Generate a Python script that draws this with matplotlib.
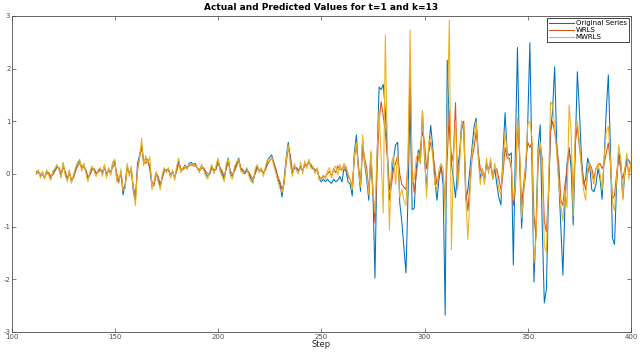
import numpy as np
import matplotlib
matplotlib.use("Agg")
import matplotlib.pyplot as plt

plt.rcParams['axes.unicode_minus'] = False

# ── Data (steps 112..400) ────────────────────────────────────────────────────
original = [
    0.00, 0.05, -0.05, 0.02, -0.08, 0.05, 0.00, -0.10, 0.03, 0.08,
    0.15, 0.10, -0.05, 0.20, 0.00, -0.12, 0.05, -0.15, -0.05, 0.10,
    0.20, 0.25, 0.10, 0.18, 0.05, -0.10, 0.00, 0.12, 0.08, 0.00,
    0.05, 0.10, 0.00, 0.15, -0.05, 0.10, 0.00, 0.20, 0.25, -0.10,
    -0.15, 0.05, -0.40, -0.20, 0.15, 0.00, 0.10, -0.35, -0.50, 0.20,
    0.35, 0.50, 0.20, 0.30, 0.25, 0.10, -0.25, -0.20, 0.00, -0.10,
    -0.25, -0.05, 0.10, 0.05, 0.10, -0.05, 0.05, -0.08, 0.10, 0.25,
    0.05, 0.10, 0.17, 0.10, 0.20, 0.22, 0.18, 0.20, 0.10, 0.05,
    0.15, 0.10, 0.00, -0.05, 0.00, 0.15, 0.05, 0.10, 0.27, 0.10,
    0.00, -0.10, 0.15, 0.30, 0.00, -0.05, 0.10, 0.20, 0.30, 0.10,
    0.05, 0.00, 0.10, 0.00, -0.10, -0.15, 0.05, 0.15, 0.05, 0.10,
    0.00, 0.10, 0.25, 0.32, 0.36, 0.20, 0.07, -0.10, -0.20, -0.44,
    -0.10, 0.30, 0.60, 0.30, 0.00, 0.15, 0.10, 0.05, 0.15, 0.05,
    0.20, 0.15, 0.25, 0.15, 0.10, 0.05, 0.10, -0.10, -0.15, -0.10,
    -0.15, -0.10, -0.15, -0.18, -0.10, -0.15, -0.12, -0.05, -0.15, 0.10,
    0.05, -0.15, -0.20, -0.42, 0.40, 0.74, 0.10, -0.33, 0.64, 0.20,
    -0.10, -0.50, 0.40, -0.30, -1.98, 0.30, 1.65, 1.60, 1.70, 1.20,
    0.40, -0.30, -0.10, 0.30, 0.55, 0.60, -0.55, -0.90, -1.40, -1.88,
    -0.40, 1.40, -0.68, -0.65, 0.10, 0.45, 0.20, 1.20, 0.30, -0.30,
    0.50, 0.92, 0.50, -0.10, -0.50, -0.10, 0.15, -0.20, -2.68, 2.16,
    0.90, 0.20, -0.10, -0.45, 0.10, 0.40, 1.00, 0.80, -0.50, -0.30,
    0.10, 0.50, 0.90, 1.06, 0.40, -0.10, 0.10, -0.15, 0.20, 0.05,
    0.25, -0.10, 0.10, -0.20, -0.45, -0.59, 0.40, 1.16, 0.40, 0.35,
    0.40, -1.73, 0.50, 2.40, 0.30, -1.03, -0.30, 0.00, 1.00, 2.49,
    0.20, -2.05, -1.00, 0.50, 0.93, -1.00, -2.45, -2.20, -0.50, 0.80,
    1.20, 2.03, 0.60, -0.10, -1.00, -1.92, -0.60, 0.20, 0.50, 0.10,
    -0.97, 0.50, 1.94, 1.20, 0.30, -0.20, -0.10, 0.30, 0.15, -0.30,
    -0.34, -0.20, 0.10, -0.10, -0.48, 0.30, 1.20, 1.88, 0.50, -1.22,
    -1.34, -0.20, 0.40, 0.20, -0.47, 0.00, 0.30, 0.25, 0.15,
]

wrls = [
    0.05, 0.02, 0.00, -0.02, -0.05, 0.00, 0.03, -0.05, -0.02, 0.05,
    0.12, 0.12, 0.00, 0.12, 0.05, -0.08, 0.00, -0.10, -0.08, 0.05,
    0.15, 0.20, 0.15, 0.12, 0.08, -0.05, -0.02, 0.08, 0.10, 0.02,
    0.03, 0.08, 0.05, 0.10, 0.02, 0.05, 0.05, 0.12, 0.20, 0.00,
    -0.12, 0.00, -0.28, -0.25, 0.08, 0.05, 0.05, -0.25, -0.42, 0.05,
    0.30, 0.55, 0.25, 0.20, 0.28, 0.12, -0.15, -0.22, 0.02, -0.05,
    -0.20, -0.08, 0.05, 0.08, 0.05, 0.00, 0.02, -0.05, 0.05, 0.20,
    0.10, 0.08, 0.12, 0.12, 0.15, 0.18, 0.15, 0.15, 0.12, 0.08,
    0.10, 0.12, 0.05, 0.00, 0.02, 0.10, 0.08, 0.08, 0.20, 0.12,
    0.05, -0.05, 0.10, 0.22, 0.05, 0.00, 0.05, 0.15, 0.25, 0.12,
    0.08, 0.02, 0.05, 0.03, -0.05, -0.10, 0.00, 0.10, 0.08, 0.05,
    0.03, 0.08, 0.18, 0.25, 0.30, 0.22, 0.10, -0.05, -0.15, -0.30,
    -0.20, 0.20, 0.50, 0.35, 0.05, 0.10, 0.12, 0.08, 0.10, 0.08,
    0.15, 0.18, 0.20, 0.18, 0.12, 0.08, 0.05, -0.05, -0.10, -0.05,
    -0.05, 0.00, 0.05, -0.05, 0.10, 0.02, 0.15, 0.08, 0.10, 0.15,
    0.10, -0.05, -0.10, -0.25, 0.30, 0.55, 0.15, -0.20, 0.45, 0.30,
    0.10, -0.30, 0.20, -0.40, -0.93, 0.10, 1.00, 1.37, 1.10, 0.80,
    0.30, -0.50, -0.20, 0.10, 0.20, 0.35, 0.00, -0.20, -0.25, -0.30,
    0.20, 2.00, 0.10, -0.35, 0.00, 0.30, 0.50, 0.80, 0.60, 0.10,
    0.40, 0.60, 0.40, 0.10, -0.20, 0.00, 0.10, 0.00, -0.60, 0.30,
    1.20, 0.20, 0.40, 1.35, -0.20, 0.30, 0.90, 1.00, -0.30, -0.70,
    -0.20, 0.30, 0.50, 0.80, 0.40, 0.10, 0.00, -0.10, 0.20, 0.10,
    0.15, 0.00, 0.05, 0.10, -0.10, -0.30, 0.00, 0.50, 0.30, 0.30,
    0.10, -0.60, -0.30, 0.90, 0.40, -0.60, -0.20, 0.20, 0.60, 0.50,
    0.60, -0.80, -1.20, 0.20, 0.55, 0.30, -0.90, -1.10, -0.40, 0.80,
    1.00, 0.80, 0.50, 0.20, -0.50, -0.60, -0.20, 0.10, 0.40, 0.30,
    -0.40, 0.60, 0.90, 0.50, 0.20, -0.10, -0.30, 0.00, 0.20, 0.10,
    -0.10, 0.10, 0.15, 0.20, 0.10, 0.20, 0.40, 0.59, 0.20, -0.48,
    -0.40, 0.00, 0.30, 0.10, -0.10, 0.10, 0.20, 0.00, 0.20,
]

mwrls = [
    0.02, 0.08, -0.08, 0.05, -0.10, 0.08, -0.02, -0.12, 0.05, 0.10,
    0.18, 0.08, -0.08, 0.22, -0.02, -0.15, 0.08, -0.18, -0.02, 0.12,
    0.22, 0.28, 0.05, 0.20, 0.02, -0.15, 0.05, 0.15, 0.05, -0.05,
    0.08, 0.12, -0.05, 0.18, -0.08, 0.12, -0.03, 0.22, 0.28, -0.15,
    -0.18, 0.10, -0.32, -0.28, 0.20, -0.05, 0.15, -0.30, -0.60, 0.10,
    0.30, 0.68, 0.15, 0.35, 0.20, 0.33, -0.30, -0.15, 0.05, -0.15,
    -0.30, 0.00, 0.12, 0.02, 0.12, -0.08, 0.08, -0.12, 0.15, 0.30,
    0.02, 0.12, 0.15, 0.08, 0.18, 0.15, 0.20, 0.15, 0.12, 0.02,
    0.18, 0.08, -0.05, -0.10, 0.05, 0.18, 0.00, 0.15, 0.30, 0.05,
    -0.05, -0.15, 0.20, 0.28, -0.05, -0.10, 0.15, 0.22, 0.28, 0.05,
    0.00, 0.05, 0.12, -0.05, -0.15, -0.18, 0.10, 0.18, 0.02, 0.12,
    -0.05, 0.15, 0.28, 0.25, 0.32, 0.15, 0.02, -0.15, -0.28, -0.35,
    -0.15, 0.25, 0.55, 0.20, -0.05, 0.20, 0.05, 0.00, 0.22, 0.00,
    0.25, 0.10, 0.28, 0.10, 0.15, 0.00, 0.12, -0.12, -0.08, -0.02,
    -0.10, 0.05, 0.12, -0.08, 0.10, 0.15, -0.02, 0.18, 0.05, 0.20,
    0.15, 0.00, -0.10, -0.30, 0.35, 0.60, 0.05, -0.25, 0.74, 0.20,
    0.00, -0.40, 0.45, -0.30, -0.74, 0.40, 1.20, 0.30, -0.74, 2.64,
    0.50, -1.06, 0.20, 0.35, -0.20, 0.40, -0.45, -0.30, -0.50, -0.60,
    0.30, 2.73, -0.20, -0.10, 0.30, 0.40, 0.20, 1.20, 0.40, -0.45,
    0.60, 0.70, 0.30, -0.20, -0.30, 0.10, 0.20, 0.10, -0.80, 1.00,
    2.92, -1.44, 0.30, 1.00, -0.30, 0.20, 1.00, 0.90, -0.50, -1.25,
    -0.40, 0.40, 0.70, 1.00, 0.30, -0.20, 0.10, -0.20, 0.30, 0.00,
    0.30, -0.10, 0.20, 0.00, -0.30, -0.40, 0.20, 0.80, 0.40, 0.25,
    0.20, -0.50, -0.20, 1.06, 0.50, -0.84, -0.40, 0.20, 0.95, 1.00,
    0.70, -1.69, -1.20, 0.40, 0.60, 0.20, -1.35, -1.50, -0.30, 1.37,
    1.30, 0.90, 0.40, -0.20, -0.60, -0.90, -0.30, -0.64, 1.31, 0.80,
    -0.80, 0.87, 1.00, 0.60, 0.10, -0.30, -0.50, 0.10, 0.20, 0.00,
    -0.20, 0.10, 0.20, 0.00, -0.30, 0.30, 0.80, 0.90, 0.30, -0.53,
    -0.70, -0.10, 0.55, 0.30, -0.50, 0.10, 0.40, -0.10, 0.25,
]

first_step = 112
x_ticks = [100, 150, 200, 250, 300, 350, 400]
y_ticks = [-3, -2, -1, 0, 1, 2, 3]

# MATLAB default line colours
BLUE, ORANGE, YELLOW = '#0072BD', '#D95319', '#EDB120'
AX_CLR = '#4d4d4d'

fig = plt.figure(figsize=(6.4, 3.52), dpi=100)
ax = fig.add_axes([0.018, 0.057, 0.968, 0.898])

for vals, clr, lbl in [(original, BLUE, 'Original Series'),
                       (wrls, ORANGE, 'WRLS'),
                       (mwrls, YELLOW, 'MWRLS')]:
    steps = np.arange(first_step, first_step + len(vals))
    ax.plot(steps, vals, color=clr, lw=0.75, label=lbl)

ax.set_xlim(100, 400)
ax.set_ylim(-3, 3)
ax.set_xticks(x_ticks)
ax.set_yticks(y_ticks)
ax.tick_params(direction='in', length=3, width=0.5, colors=AX_CLR,
               labelsize=5, top=True, right=True)
ax.tick_params(axis='x', pad=1.5)
ax.tick_params(axis='y', pad=0.8)
for sp in ax.spines.values():
    sp.set_color(AX_CLR)
    sp.set_linewidth(0.6)

ax.set_title('Actual and Predicted Values for t=1 and k=13',
             fontsize=6.5, fontweight='bold', pad=4.5)
ax.set_xlabel('Step', fontsize=6, color='#262626', labelpad=0)

leg = ax.legend(loc='upper right', fontsize=5, handlelength=3.5,
                handletextpad=0.3, borderpad=0.3, labelspacing=0.15,
                fancybox=False, framealpha=1, edgecolor='#262626',
                borderaxespad=0.3)
leg.get_frame().set_linewidth(0.6)

fig.savefig('out.png', dpi=100)
